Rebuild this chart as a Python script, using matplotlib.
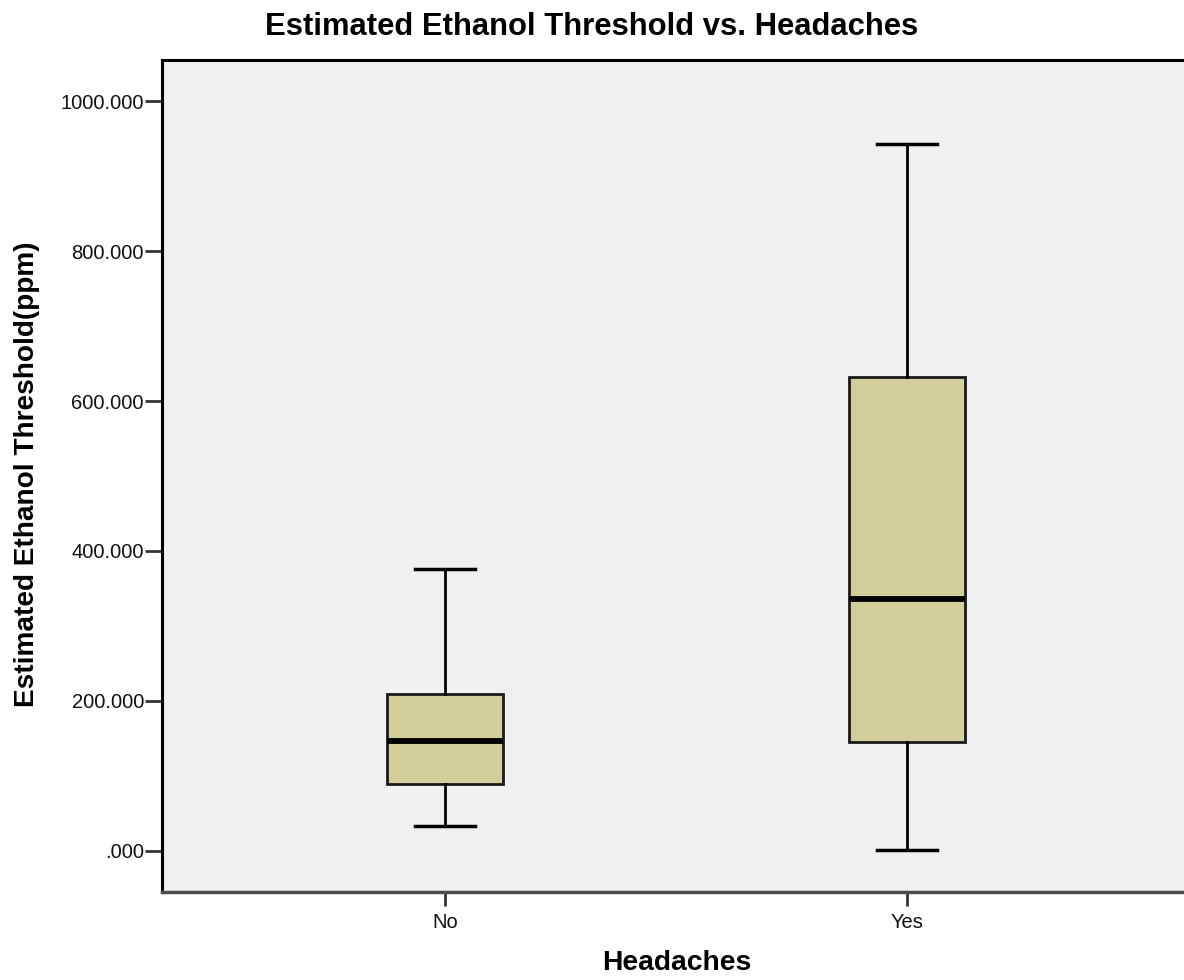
import matplotlib
matplotlib.use("Agg")
import matplotlib.pyplot as plt
from matplotlib.ticker import FuncFormatter

categories = ["No", "Yes"]
whisker_low = [33.7, 1.3]
q1 = [89.0, 145.8]
median = [146.7, 336.4]
q3 = [209.0, 631.6]
whisker_high = [376.0, 943.0]
y_ticks = [0, 200, 400, 600, 800, 1000]

title = "Estimated Ethanol Threshold vs. Headaches"
ylabel = "Estimated Ethanol Threshold(ppm)"
xlabel = "Headaches"

W, H = 1184, 980
fig = plt.figure(figsize=(W / 100, H / 100), dpi=100)
fig.patch.set_facecolor("white")

left, right, top, bottom = 162, 1190, 60, 892
ax = fig.add_axes([left / W, (H - bottom) / H, (right - left) / W, (bottom - top) / H])
ax.set_facecolor("#F0F0F0")

stats = []
for i, c in enumerate(categories):
    stats.append(dict(label=c, whislo=whisker_low[i], q1=q1[i], med=median[i],
                      q3=q3[i], whishi=whisker_high[i], fliers=[]))

positions = list(range(len(categories)))
ax.bxp(stats, positions=positions, widths=0.2524, patch_artist=True,
       showfliers=False, capwidths=0.13,
       boxprops=dict(facecolor="#D3CF9A", edgecolor="#1a1a1a", linewidth=2),
       medianprops=dict(color="black", linewidth=4.2),
       whiskerprops=dict(color="black", linewidth=2),
       capprops=dict(color="black", linewidth=2.5))

ax.set_xlim(-0.6126, 1.6126)
ax.set_ylim(-54.67, 1054.67)
ax.set_yticks(y_ticks)

def fmt(v, pos):
    s = f"{v:.3f}"
    if s.startswith("0"):
        s = s[1:]
    return s

ax.yaxis.set_major_formatter(FuncFormatter(fmt))
ax.set_xticks(positions)
ax.set_xticklabels(categories)

tick_font = ["Liberation Sans", "DejaVu Sans"]
for lab in ax.get_yticklabels() + ax.get_xticklabels():
    lab.set_family(tick_font)
    lab.set_fontsize(14.5)
    lab.set_color("#111111")

ax.tick_params(axis="y", direction="out", length=12, width=2, pad=1, color="#333333")
ax.tick_params(axis="x", direction="out", length=10, width=2, pad=5, color="#333333")

for s in ["left", "top"]:
    ax.spines[s].set_color("black")
    ax.spines[s].set_linewidth(2.2)
ax.spines["bottom"].set_color("#4d4d4d")
ax.spines["bottom"].set_linewidth(2.5)
ax.spines["right"].set_visible(False)

fig.text(0.5, 1 - 27 / H, title, ha="center", va="center",
         family=["Liberation Sans Narrow", "Liberation Sans", "DejaVu Sans"],
         fontweight="bold", fontsize=22.3)
fig.text(27 / W, 1 - 474 / H, ylabel, ha="center", va="center", rotation=90,
         family=["Liberation Sans", "DejaVu Sans"], fontweight="bold", fontsize=20.2)
fig.text(677 / W, 1 - 963 / H, xlabel, ha="center", va="center",
         family=["Liberation Sans Narrow", "Liberation Sans", "DejaVu Sans"],
         fontweight="bold", fontsize=20.3)

fig.savefig("out.png", dpi=100)
